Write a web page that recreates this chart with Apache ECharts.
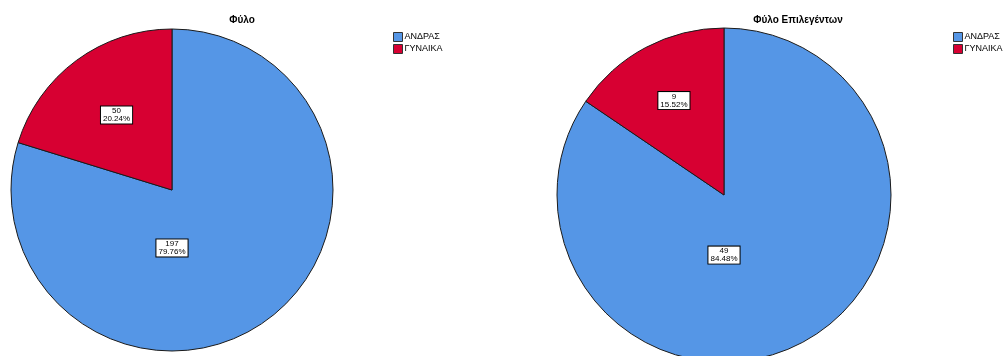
<!DOCTYPE html>
<html><head><meta charset="utf-8">
<script src="https://cdn.jsdelivr.net/npm/echarts@6/dist/echarts.min.js"></script>
<style>html,body{margin:0;padding:0;background:#fff}#c{width:1003px;height:356px}</style>
</head><body><div id="c"></div>
<script>
const categories = ['ΑΝΔΡΑΣ', 'ΓΥΝΑΙΚΑ'];
const countsAll = [197, 50];
const pctAll = ['79.76%', '20.24%'];
const countsSel = [49, 9];
const pctSel = ['84.48%', '15.52%'];
const titles = ['Φύλο', 'Φύλο Επιλεγέντων'];
const colors = ['#5596e6', '#d70032'];

const FONT = 'Liberation Sans, Arial, sans-serif';
const pies = [
  {cx: 172, cy: 190, r: 161, counts: countsAll, pct: pctAll, lr: 0.58},
  {cx: 724, cy: 195, r: 167, counts: countsSel, pct: pctSel, lr: 0.64}
];

const chart = echarts.init(document.getElementById('c'));
chart.setOption({
  animation: false,
  color: colors,
  title: [
    {text: titles[0], left: 242, top: 15, padding: 0, textAlign: 'center',
     textStyle: {fontFamily: FONT, fontSize: 10, fontWeight: 'bold', color: '#000'}},
    {text: titles[1], left: 798, top: 15, padding: 0, textAlign: 'center',
     textStyle: {fontFamily: FONT, fontSize: 10, fontWeight: 'bold', color: '#000'}}
  ],
  legend: [
    {left: 393, top: 32, padding: 0, orient: 'vertical', itemWidth: 9, itemHeight: 9, itemGap: 2,
     icon: 'rect', data: categories,
     itemStyle: {borderColor: '#333', borderWidth: 1},
     textStyle: {fontFamily: FONT, fontSize: 9, color: '#000', padding: [0,0,0,-3]}},
    {left: 953, top: 32, padding: 0, orient: 'vertical', itemWidth: 9, itemHeight: 9, itemGap: 2,
     icon: 'rect', data: categories,
     itemStyle: {borderColor: '#333', borderWidth: 1},
     textStyle: {fontFamily: FONT, fontSize: 9, color: '#000', padding: [0,0,0,-3]}}
  ],
  series: pies.map((p) => ({
    type: 'pie',
    center: [p.cx, p.cy],
    radius: [0, p.r],
    startAngle: 90,
    clockwise: true,
    avoidLabelOverlap: false,
    itemStyle: {borderColor: '#1a1a1a', borderWidth: 1},
    emphasis: {disabled: true},
    data: categories.map((c, i) => ({name: c, value: p.counts[i]})),
    label: {
      show: true,
      position: 'inside',
      formatter: (d) => d.value + '\n' + p.pct[d.dataIndex],
      fontFamily: FONT, fontSize: 8, lineHeight: 8, color: '#000',
      backgroundColor: '#fff', borderColor: '#000', borderWidth: 1,
      padding: [1, 2, 0, 2], align: 'center'
    },
    labelLayout: function (params) {
      if (params.dataIndex === 0) {
        return {x: p.cx, y: p.cy + p.r * 0.36, align: 'center', verticalAlign: 'middle'};
      }
      const total = p.counts.reduce((a, b) => a + b, 0);
      let before = 0;
      for (let k = 0; k < params.dataIndex; k++) before += p.counts[k];
      const frac = (before + p.counts[params.dataIndex] / 2) / total;
      const ang = frac * 2 * Math.PI;
      return {
        x: p.cx + Math.sin(ang) * p.r * p.lr,
        y: p.cy - Math.cos(ang) * p.r * p.lr,
        align: 'center', verticalAlign: 'middle'
      };
    }
  }))
});
</script></body></html>
